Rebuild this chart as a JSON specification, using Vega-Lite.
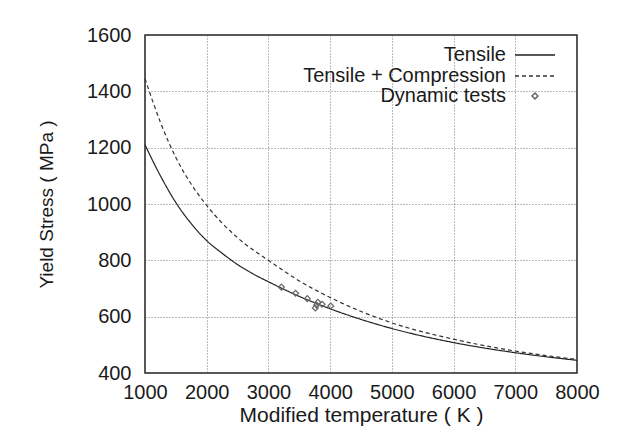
{
  "$schema": "https://vega.github.io/schema/vega-lite/v6.json",
  "width": 432,
  "height": 338,
  "autosize": {"type": "none"},
  "padding": {"left": 145, "top": 35, "right": 40, "bottom": 68},
  "background": "white",
  "config": {
    "font": "Liberation Sans",
    "view": {"stroke": "#222", "strokeWidth": 1.5},
    "axis": {
      "grid": true, "gridColor": "#555", "gridDash": [1, 2], "gridWidth": 0.8,
      "domain": false, "ticks": false, "labelOverlap": false, "labelFlush": false,
      "labelFont": "Liberation Sans", "titleFont": "Liberation Sans",
      "labelColor": "#1a1a1a", "titleColor": "#1a1a1a", "titleFontWeight": "normal",
      "labelFontSize": 20, "titleFontSize": 21
    },
    "legend": {
      "orient": "none", "legendX": 379, "legendY": 9,
      "labelFontSize": 20, "labelFont": "Liberation Sans", "labelColor": "#1a1a1a", "labelLimit": 400,
      "labelAlign": "right", "labelOffset": -40, "rowPadding": -5
    }
  },
  "datasets": {
    "curves": [
      {"T": 1000, "stress": 1210, "series": "Tensile"},
      {"T": 1250, "stress": 1100, "series": "Tensile"},
      {"T": 1500, "stress": 1005, "series": "Tensile"},
      {"T": 1750, "stress": 930, "series": "Tensile"},
      {"T": 2000, "stress": 870, "series": "Tensile"},
      {"T": 2250, "stress": 825, "series": "Tensile"},
      {"T": 2500, "stress": 785, "series": "Tensile"},
      {"T": 2750, "stress": 752, "series": "Tensile"},
      {"T": 3000, "stress": 724, "series": "Tensile"},
      {"T": 3500, "stress": 672, "series": "Tensile"},
      {"T": 4000, "stress": 628, "series": "Tensile"},
      {"T": 5000, "stress": 558, "series": "Tensile"},
      {"T": 6000, "stress": 508, "series": "Tensile"},
      {"T": 7000, "stress": 472, "series": "Tensile"},
      {"T": 8000, "stress": 445, "series": "Tensile"},
      {"T": 1000, "stress": 1445, "series": "Tensile + Compression"},
      {"T": 1250, "stress": 1290, "series": "Tensile + Compression"},
      {"T": 1500, "stress": 1165, "series": "Tensile + Compression"},
      {"T": 1750, "stress": 1070, "series": "Tensile + Compression"},
      {"T": 2000, "stress": 995, "series": "Tensile + Compression"},
      {"T": 2500, "stress": 880, "series": "Tensile + Compression"},
      {"T": 3000, "stress": 800, "series": "Tensile + Compression"},
      {"T": 3500, "stress": 727, "series": "Tensile + Compression"},
      {"T": 4000, "stress": 668, "series": "Tensile + Compression"},
      {"T": 5000, "stress": 578, "series": "Tensile + Compression"},
      {"T": 6000, "stress": 520, "series": "Tensile + Compression"},
      {"T": 7000, "stress": 478, "series": "Tensile + Compression"},
      {"T": 8000, "stress": 448, "series": "Tensile + Compression"}
    ],
    "tests": [
      {"T": 3210, "stress": 705, "series": "Dynamic tests"},
      {"T": 3440, "stress": 683, "series": "Dynamic tests"},
      {"T": 3630, "stress": 664, "series": "Dynamic tests"},
      {"T": 3800, "stress": 651, "series": "Dynamic tests"},
      {"T": 3780, "stress": 641, "series": "Dynamic tests"},
      {"T": 3760, "stress": 631, "series": "Dynamic tests"},
      {"T": 3870, "stress": 644, "series": "Dynamic tests"},
      {"T": 4010, "stress": 638, "series": "Dynamic tests"}
    ]
  },
  "layer": [
    {
      "data": {"name": "curves"},
      "mark": {"type": "line", "strokeWidth": 1.2, "interpolate": "monotone"},
      "encoding": {
        "x": {
          "field": "T", "type": "quantitative",
          "scale": {"domain": [1000, 8000], "nice": false},
          "axis": {"values": [1000, 2000, 3000, 4000, 5000, 6000, 7000, 8000], "format": "d",
                   "title": "Modified temperature ( K )", "labelPadding": 9, "titlePadding": 2}
        },
        "y": {
          "field": "stress", "type": "quantitative",
          "scale": {"domain": [400, 1600], "nice": false, "zero": false},
          "axis": {"values": [400, 600, 800, 1000, 1200, 1400, 1600], "format": "d",
                   "title": "Yield Stress ( MPa )", "labelPadding": 14, "titlePadding": 30, "titleFontSize": 19}
        },
        "color": {
          "field": "series", "type": "nominal",
          "scale": {"domain": ["Tensile", "Tensile + Compression", "Dynamic tests"], "range": ["#222222", "#333333", "#666666"]},
          "legend": {"title": null}
        },
        "strokeDash": {
          "field": "series", "type": "nominal",
          "scale": {"domain": ["Tensile", "Tensile + Compression", "Dynamic tests"], "range": [[1, 0], [4, 3], [1, 0]]},
          "legend": {"title": null}
        }
      }
    },
    {
      "data": {"name": "tests"},
      "mark": {"type": "point", "filled": false, "strokeWidth": 1.2, "opacity": 1},
      "encoding": {
        "x": {"field": "T", "type": "quantitative"},
        "y": {"field": "stress", "type": "quantitative"},
        "color": {"field": "series", "type": "nominal", "legend": {"title": null}},
        "shape": {
          "field": "series", "type": "nominal",
          "scale": {"domain": ["Tensile", "Tensile + Compression", "Dynamic tests"], "range": ["M-2,0H2", "M-2,0H2", "diamond"]},
          "legend": {"title": null}
        },
        "size": {
          "field": "series", "type": "nominal",
          "scale": {"type": "ordinal", "domain": ["Tensile", "Tensile + Compression", "Dynamic tests"], "range": [400, 400, 35]},
          "legend": {"title": null}
        }
      }
    }
  ]
}
